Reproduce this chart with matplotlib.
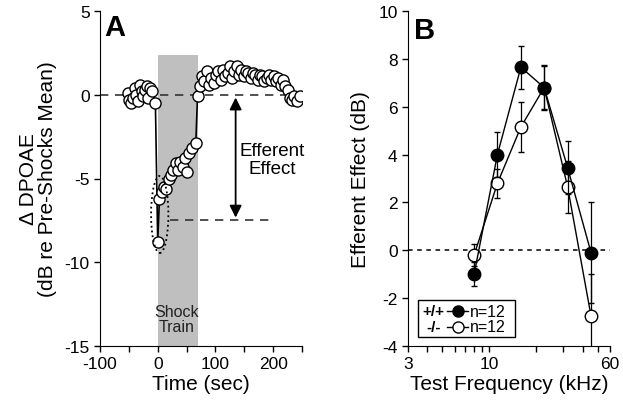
import numpy as np
import matplotlib.pyplot as plt
from matplotlib.patches import Ellipse, Rectangle
from matplotlib.lines import Line2D

plt.rcParams['font.family'] = ['Liberation Sans', 'DejaVu Sans']
plt.rcParams['axes.unicode_minus'] = False

# Panel A: Zeitverlauf
pre_t = [-52, -49, -46, -43, -40, -37, -34, -31, -28, -25, -22, -19, -16, -13, -10, -4]
pre_v = [0.1, -0.3, -0.5, -0.2, 0.4, 0.0, -0.4, 0.6, 0.2, -0.1, 0.3, 0.5, -0.2, 0.4, 0.2, -0.5]
shock_t = [0, 3, 7, 11, 15, 19, 23, 27, 31, 35, 39, 43, 47, 51, 55, 59, 66]
shock_v = [-8.8, -6.2, -5.8, -5.5, -5.6, -5.0, -4.8, -4.5, -4.1, -4.5, -4.0, -4.3, -3.8, -4.6, -3.5, -3.2, -2.9]
post_t = [69, 73, 77, 81, 85, 89, 93, 97, 101, 105, 109, 113, 117, 121, 125, 129, 133,
          137, 141, 145, 149, 153, 157, 161, 165, 169, 173, 177, 181, 185, 189, 193,
          197, 201, 205, 209, 213, 217, 221, 225, 229, 233, 237, 241, 246]
post_v = [-0.05, 0.5, 1.1, 0.8, 1.4, 0.6, 1.0, 0.7, 1.2, 1.4, 0.9, 1.5, 1.1, 1.3, 1.7, 1.0,
          1.4, 1.7, 1.2, 1.5, 1.1, 1.4, 1.3, 1.0, 1.3, 1.2, 0.9, 1.2, 1.1, 0.8, 1.0, 1.2,
          0.9, 1.1, 0.8, 1.0, 0.6, 0.9, 0.5, 0.3, -0.2, -0.3, -0.1, -0.4, -0.1]

# Panel B: Frequenzabhaengigkeit
freq = [8, 11.3, 16, 22.6, 32, 45.3]
wt_v = [-1.0, 4.0, 7.65, 6.8, 3.45, -0.1]
wt_err = [0.5, 0.95, 0.9, 0.9, 1.1, 2.1]
ko_v = [-0.2, 2.8, 5.15, 6.8, 2.65, -2.75]
ko_err = [0.45, 0.6, 1.05, 0.95, 1.1, 1.75]

fig = plt.figure(figsize=(6.23, 4.14), dpi=100)
axA = fig.add_axes([100/623, 67/414, 202/623, 335/414])
axB = fig.add_axes([408/623, 67/414, 202/623, 335/414])

for ax in (axA, axB):
    ax.spines['top'].set_visible(False)
    ax.spines['right'].set_visible(False)
    ax.tick_params(direction='out', labelsize=12.5, length=4, width=1)
    ax.tick_params(which='minor', direction='out', length=4, width=1)

# --- A ---
axA.add_patch(Rectangle((0, -15), 70, 17.4, color='#bfbfbf', lw=0, zorder=0))
axA.axhline(0, color='#333333', ls=(0, (5, 4)), lw=1.2, zorder=1)
axA.plot([21, 198], [-7.5, -7.5], color='#333333', ls=(0, (5, 4)), lw=1.2)

t_all = pre_t + shock_t + post_t
v_all = pre_v + shock_v + post_v
axA.plot(t_all, v_all, color='black', lw=1.2, marker='o', ms=8, mfc='white',
         mec='black', mew=1, zorder=3)
axA.add_patch(Ellipse((3.5, -7.15), 30, 4.6, fill=False, ls=':', lw=1.3, zorder=4))
axA.annotate('', xy=(135, -7.5), xytext=(135, 0),
             arrowprops=dict(arrowstyle='<|-|>', color='black', lw=1.3, mutation_scale=18))
axA.text(198, -3.85, 'Efferent\nEffect', ha='center', va='center', fontsize=13.5,
         linespacing=1.1)
axA.text(33, -13.4, 'Shock\nTrain', ha='center', va='center', fontsize=11.5,
         color='#222222', linespacing=1.0)
axA.text(-93, 4.9, 'A', fontsize=21, fontweight='bold', va='top')

axA.set_xlim(-100, 250)
axA.set_ylim(-15, 5)
axA.set_xticks([-100, 0, 100, 200])
axA.set_xticks([-50, 50, 150, 250], minor=True)
axA.set_yticks([5, 0, -5, -10, -15])
axA.set_xlabel('Time (sec)', fontsize=15, labelpad=2)
axA.set_ylabel('Δ DPOAE\n(dB re Pre-Shocks Mean)', fontsize=15, linespacing=0.95)
axA.yaxis.set_label_coords(-0.215, 0.5)

# --- B ---
axB.axhline(0, color='black', ls=(0, (3, 3)), lw=1.1)
axB.errorbar(freq, ko_v, yerr=ko_err, color='black', lw=1, marker='o', ms=9,
             mfc='white', mec='black', mew=1, capsize=2, elinewidth=0.9, zorder=3)
axB.errorbar(freq, wt_v, yerr=wt_err, color='black', lw=1, marker='o', ms=9,
             mfc='black', mec='black', capsize=2, elinewidth=0.9, zorder=4)
axB.set_xscale('log')
axB.set_xlim(3, 60)
axB.set_ylim(-4, 10)
axB.set_xticks([3, 10, 60])
axB.set_xticklabels(['3', '10', '60'])
axB.set_xticks([4, 5, 6, 7, 8, 9, 20, 30, 40, 50], minor=True)
axB.set_xticklabels([], minor=True)
axB.set_yticks(np.arange(-4, 11, 2))
axB.set_xlabel('Test Frequency (kHz)', fontsize=15, labelpad=2)
axB.set_ylabel('Efferent Effect (dB)', fontsize=15)
axB.yaxis.set_label_coords(-0.19, 0.5)
axB.text(0.03, 0.985, 'B', transform=axB.transAxes, fontsize=21, fontweight='bold', va='top')

# Legende von Hand
axB.add_patch(Rectangle((0.05, 0.026), 0.48, 0.11, transform=axB.transAxes,
                        fill=False, ec='black', lw=1, zorder=5))
rows = [(0.104, '+/+', 'black'), (0.057, '-/-', 'white')]
for yy, lab, fc in rows:
    axB.text(0.128, yy, lab, transform=axB.transAxes, fontsize=11, fontweight='bold',
             va='center', ha='center', zorder=6)
    axB.add_line(Line2D([0.195, 0.297], [yy, yy], transform=axB.transAxes, color='black',
                        lw=1, zorder=6))
    axB.add_line(Line2D([0.248], [yy], transform=axB.transAxes, marker='o', ms=8,
                        mfc=fc, mec='black', zorder=7))
    axB.text(0.307, yy, 'n=12', transform=axB.transAxes, fontsize=11.5, va='center',
             ha='left', zorder=6)

fig.savefig('out.png', dpi=100)
